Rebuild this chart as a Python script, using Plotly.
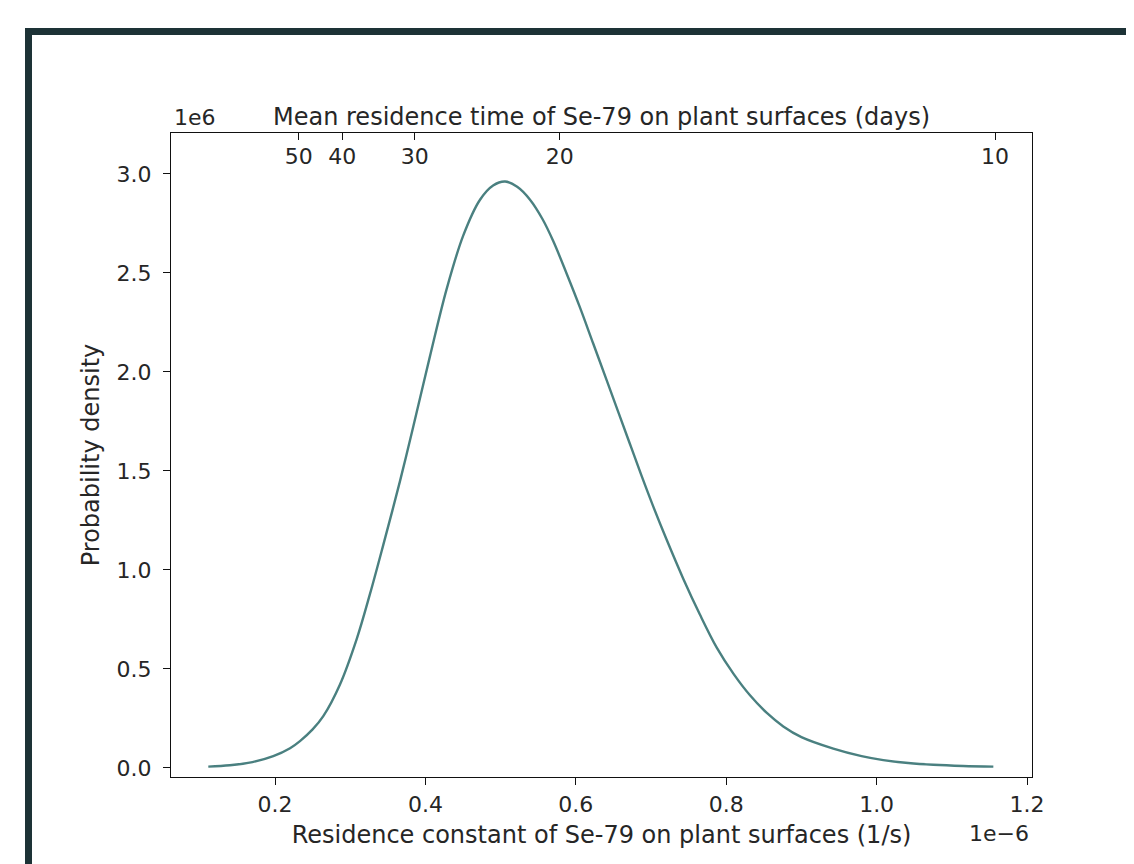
import plotly.graph_objects as go

# Residence constant (units of 1e-6 1/s) and probability density (units of 1e6)
rate_e6 = [0.1113, 0.1400, 0.1700, 0.1977, 0.2200, 0.2332, 0.2500, 0.2642, 0.2864,
           0.3086, 0.3263, 0.3440, 0.3662, 0.3839, 0.4061, 0.4283, 0.4504, 0.4726,
           0.4900, 0.5060, 0.5220, 0.5391, 0.5560, 0.5701, 0.5880, 0.6056, 0.6230,
           0.6411, 0.6570, 0.6721, 0.6870, 0.7020, 0.7200, 0.7430, 0.7650, 0.7874,
           0.8100, 0.8316, 0.8540, 0.8759, 0.9000, 0.9424, 0.9800, 1.0089, 1.0420,
           1.0754, 1.1150, 1.1552]
density_e6 = [0.007, 0.014, 0.030, 0.060, 0.100, 0.136, 0.195, 0.262, 0.422,
              0.651, 0.879, 1.127, 1.449, 1.725, 2.080, 2.420, 2.690, 2.870,
              2.942, 2.962, 2.935, 2.870, 2.770, 2.660, 2.495, 2.325, 2.145,
              1.958, 1.792, 1.635, 1.480, 1.330, 1.160, 0.955, 0.775, 0.608,
              0.474, 0.367, 0.278, 0.210, 0.156, 0.098, 0.060, 0.040, 0.025,
              0.016, 0.010, 0.007]

# Top axis: mean residence time in days
days_ticks = [50, 40, 30, 20, 10]
days_tickvals = [1e6 / (d * 86400) for d in days_ticks]

x_ticks = [0.2, 0.4, 0.6, 0.8, 1.0, 1.2]
y_ticks = [0.0, 0.5, 1.0, 1.5, 2.0, 2.5, 3.0]

FONT = "DejaVu Sans"
TICK_FS = 22
LABEL_FS = 24
TXT = "#262626"
AX = "#111111"
x_range = [0.0617, 1.2066]
y_range = [-0.0455, 3.207]

fig = go.Figure()
fig.add_trace(go.Scatter(x=rate_e6, y=density_e6, mode="lines",
                         line=dict(color="#4a8080", width=2.4, shape="spline", smoothing=1.0),
                         showlegend=False, hoverinfo="skip"))
# invisible trace for top axis
fig.add_trace(go.Scatter(x=[x_range[0]], y=[0], xaxis="x2", mode="markers",
                         marker=dict(opacity=0), showlegend=False, hoverinfo="skip"))

fig.update_layout(
    width=1126, height=856,
    margin=dict(l=163, r=102, t=125, b=87),
    paper_bgcolor="white", plot_bgcolor="white",
    font=dict(family=FONT, size=TICK_FS, color=TXT),
    xaxis=dict(range=x_range, tickvals=x_ticks, tickformat=".1f",
               showline=True, linecolor=AX, linewidth=1.4, mirror=False,
               ticks="outside", ticklen=7, tickwidth=1.4, tickcolor=AX,
               tickfont=dict(size=TICK_FS, color=TXT, family=FONT),
               showgrid=False, zeroline=False,
               title=dict(text="Residence constant of Se-79 on plant surfaces (1/s)",
                          font=dict(size=LABEL_FS, color=TXT, family=FONT), standoff=10)),
    xaxis2=dict(range=x_range, overlaying="x", side="top", anchor="y",
                tickvals=days_tickvals, ticktext=[str(d) for d in days_ticks],
                ticks="inside", ticklen=7, tickwidth=1.4, tickcolor=AX,
                ticklabelposition="inside", ticklabelstandoff=10,
                tickfont=dict(size=TICK_FS, color=TXT, family=FONT),
                showline=True, linecolor=AX, linewidth=1.4,
                showgrid=False, zeroline=False),
    yaxis=dict(range=y_range, tickvals=y_ticks, tickformat=".1f",
               showline=True, linecolor=AX, linewidth=1.4, mirror=True,
               ticks="outside", ticklen=7, tickwidth=1.4, tickcolor=AX,
               tickfont=dict(size=TICK_FS, color=TXT, family=FONT), ticklabelstandoff=7,
               showgrid=False, zeroline=False,
               title=dict(text="Probability density",
                          font=dict(size=LABEL_FS, color=TXT, family=FONT), standoff=10)),
)

# helpers mapping screen pixels (reference image) to paper coordinates
W, H = 861, 644
def px(x):
    return (x - 171) / W
def py(y):
    return (777 - y) / H

# top axis title
fig.add_annotation(text="Mean residence time of Se-79 on plant surfaces (days)",
                   xref="paper", yref="paper", x=0.5, y=py(117),
                   xanchor="center", yanchor="middle", showarrow=False,
                   font=dict(size=LABEL_FS, family=FONT, color=TXT))
# matplotlib-style offset texts
fig.add_annotation(text="1e6", xref="paper", yref="paper", x=px(172), y=py(118),
                   xanchor="left", yanchor="middle", showarrow=False,
                   font=dict(size=TICK_FS, family=FONT, color=TXT))
fig.add_annotation(text="1e\u22126", xref="paper", yref="paper", x=px(1031), y=py(833),
                   xanchor="right", yanchor="middle", showarrow=False,
                   font=dict(size=TICK_FS, family=FONT, color=TXT))

# dark frame lines (top and left)
fig.add_shape(type="rect", xref="paper", yref="paper", x0=px(25), x1=px(1140),
              y0=py(35), y1=py(28), fillcolor="#1d3236", line=dict(width=0), layer="above")
fig.add_shape(type="rect", xref="paper", yref="paper", x0=px(25), x1=px(32),
              y0=py(870), y1=py(28), fillcolor="#1d3236", line=dict(width=0), layer="above")

fig.write_html("out.html")
